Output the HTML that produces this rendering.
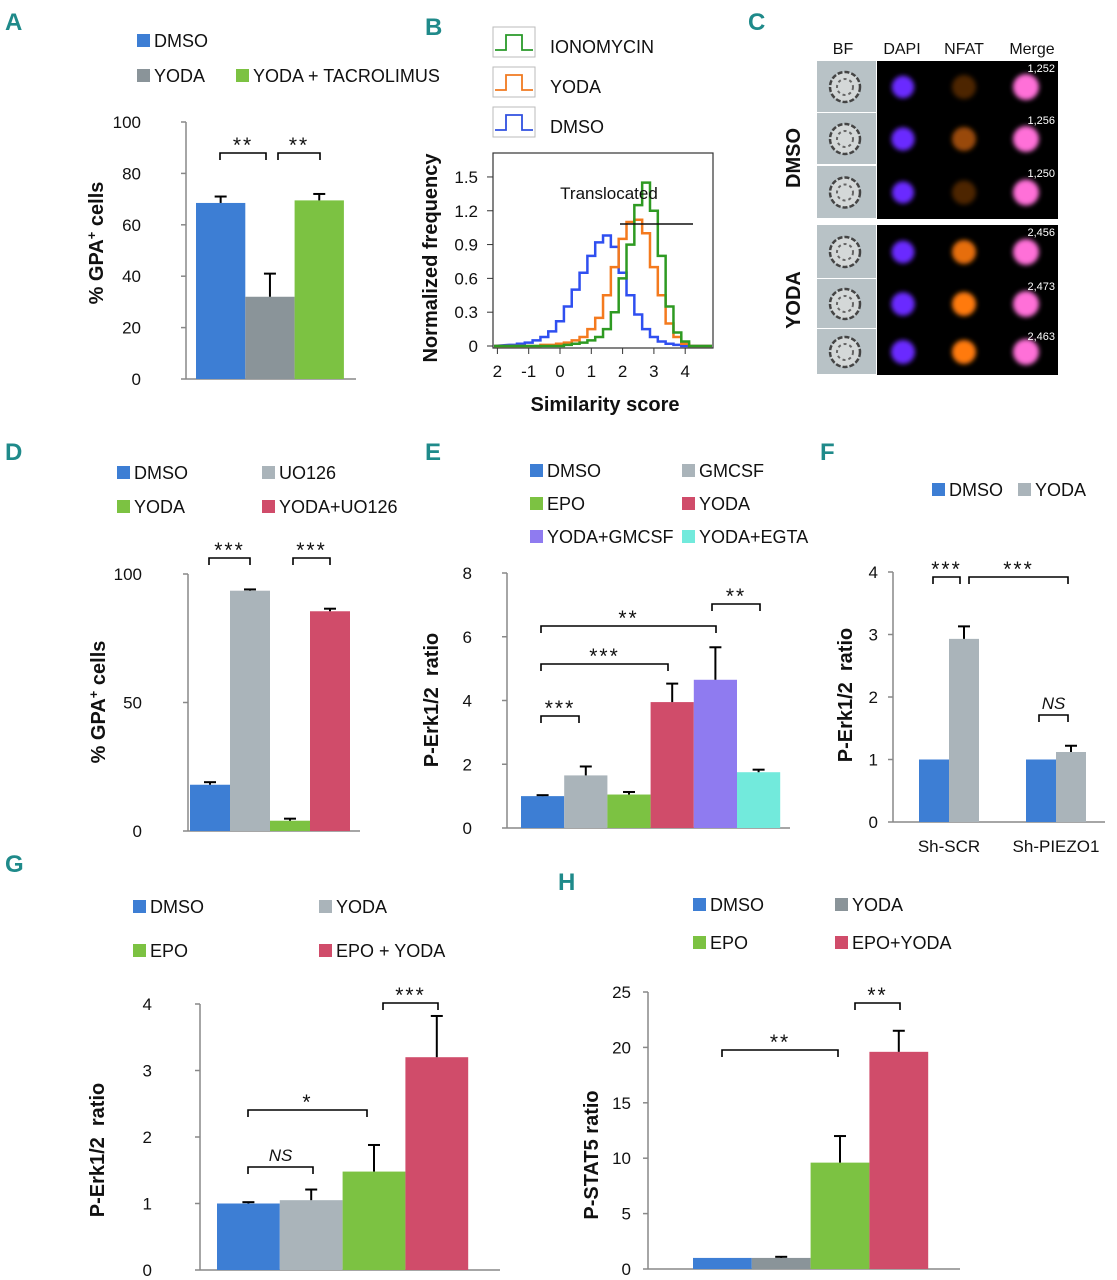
<!DOCTYPE html>
<html><head><meta charset="utf-8"><style>
body{margin:0;background:#fff}
svg{display:block;font-family:"Liberation Sans",sans-serif}
.t{font-size:17px;fill:#111}
.lg{font-size:18px;fill:#111}
.yl{font-size:20px;font-weight:bold;fill:#111}
.pl{font-size:24px;font-weight:bold;fill:#1f8a8a;font-family:"Liberation Sans Narrow","Liberation Sans",sans-serif}
</style></head><body>
<svg id="fig" width="1117" height="1280" viewBox="0 0 1117 1280">
<defs>
<filter id="bl" x="-50%" y="-50%" width="200%" height="200%"><feGaussianBlur stdDeviation="2.5"/></filter>
</defs>
</svg>
<script>
// ---- data ----
const aCats=["DMSO","YODA","YODA + TACROLIMUS"];
const aVals=[68.5,32,69.5];
const aErr=[2.5,9,2.5];
const aTicks=[0,20,40,60,80,100];

const bX=[-1.5,-1.25,-1,-0.75,-0.5,-0.25,0,0.25,0.5,0.75,1,1.25,1.5,1.75,2,2.25,2.5,2.75,3,3.25,3.5,3.75,4,4.25];
const bBlue=[0.01,0.02,0.03,0.05,0.08,0.13,0.22,0.35,0.5,0.65,0.8,0.92,0.98,0.88,0.65,0.45,0.28,0.15,0.08,0.04,0.02,0.01,0,0];
const bOrange=[0,0,0,0,0.01,0.01,0.02,0.03,0.05,0.08,0.15,0.25,0.45,0.7,0.95,1.1,1.12,1.0,0.7,0.45,0.2,0.08,0.02,0];
const bGreen=[0,0,0,0,0,0,0,0.01,0.02,0.03,0.05,0.08,0.15,0.3,0.6,0.9,1.25,1.45,1.2,0.8,0.35,0.12,0.04,0];
const bYTicks=[0,0.3,0.6,0.9,1.2,1.5];
const bXTicks=[-2,-1,0,1,2,3,4];
const bXLabels=["2","-1","0","1","2","3","4"];

const dCats=["DMSO","UO126","YODA","YODA+UO126"];
const dVals=[18,93.5,4,85.5];
const dErr=[1,0.5,0.8,1];
const dTicks=[0,50,100];

const eCats=["DMSO","GMCSF","EPO","YODA","YODA+GMCSF","YODA+EGTA"];
const eVals=[1.0,1.65,1.05,3.95,4.65,1.75];
const eErr=[0.03,0.28,0.08,0.58,1.02,0.08];
const eTicks=[0,2,4,6,8];

const fGroups=["Sh-SCR","Sh-PIEZO1"];
const fDmso=[1.0,1.0];
const fYoda=[2.93,1.12];
const fYodaErr=[0.2,0.1];
const fTicks=[0,1,2,3,4];

const gCats=["DMSO","YODA","EPO","EPO + YODA"];
const gVals=[1.0,1.05,1.48,3.2];
const gErr=[0.02,0.16,0.4,0.62];
const gTicks=[0,1,2,3,4];

const hCats=["DMSO","YODA","EPO","EPO+YODA"];
const hVals=[1.0,1.0,9.6,19.6];
const hErr=[0,0.1,2.4,1.9];
const hTicks=[0,5,10,15,20,25];

const cDmso=["1,252","1,256","1,250"];
const cYoda=["2,456","2,473","2,463"];

// ---- helpers ----
const NS="http://www.w3.org/2000/svg";
const svg=document.getElementById('fig');
function el(tag,attrs,parent,text){const e=document.createElementNS(NS,tag);for(const k in attrs)e.setAttribute(k,attrs[k]);if(text!==undefined)e.textContent=text;(parent||svg).appendChild(e);return e;}
function grp(name){const g=el('g',{});return g;}
const BLUE="#3d7ed4",LGREY="#aab4ba",DGREY="#8a9499",GREEN="#7cc242",RED="#d04c6a",PURPLE="#8f7bf0",CYAN="#72eadc";

function panelLetter(t,x,y){const e=el('text',{x:x,y:y,class:'pl'},svg,t);}
function legendItem(g,x,y,color,label){
  const r=el('rect',{x:x,y:y-13,width:13,height:13,fill:color},g);
  
  const t=el('text',{x:x+17,y:y,class:'lg'},g,label);
  
}
function axes(g,x0,x1,y0,y1,ticks,yScale,labX){
  el('line',{x1:x0,y1:y0,x2:x0,y2:y1,stroke:'#888','stroke-width':1.5},g);
  el('line',{x1:x0,y1:y0,x2:x1,y2:y0,stroke:'#888','stroke-width':1.5},g);
  ticks.forEach(v=>{const y=yScale(v);
    el('line',{x1:x0-5,y1:y,x2:x0,y2:y,stroke:'#888','stroke-width':1.5},g);
    const t=el('text',{x:labX,y:y+6,class:'t','text-anchor':'end'},g,String(v));
    
  });
}
function yTitle(g,x,y,txt){const t=el('text',{x:x,y:y,class:'yl','text-anchor':'middle',transform:`rotate(-90 ${x} ${y})`},g);t.innerHTML=txt;}
function bar(g,x,w,v,err,color,yScale,name){
  const y0=yScale(0),y=yScale(v);
  const r=el('rect',{x:x,y:y,width:w,height:y0-y,fill:color},g);
  
  if(err>0){const ye=yScale(v+err),cx=x+w/2;
    el('line',{x1:cx,y1:y,x2:cx,y2:ye,stroke:'#000','stroke-width':2},g);
    el('line',{x1:cx-6,y1:ye,x2:cx+6,y2:ye,stroke:'#000','stroke-width':2},g);}
}
function bracket(g,x1,x2,y,label,italic){
  el('path',{d:`M${x1} ${y+7}V${y}H${x2}V${y+7}`,fill:'none',stroke:'#000','stroke-width':1.6},g);
  const t=el('text',{x:(x1+x2)/2,y:italic?y-6:y-1,'text-anchor':'middle','font-size':italic?17:21,'font-style':italic?'italic':'normal','letter-spacing':italic?0:2,fill:'#111'},g,label);
  
}
function barChart(name,o){
  const g=grp(name);
  const ys=v=>o.y0-(v-o.min)/(o.max-o.min)*(o.y0-o.y1);
  axes(g,o.ax,o.axEnd,o.y0,o.y1,o.ticks,ys,o.labX);
  o.vals.forEach((v,i)=>bar(g,o.bx+i*o.bw,o.bw,v,o.err[i],o.colors[i],ys,'bar-'+o.cats[i].toLowerCase().replace(/[^a-z0-9]+/g,'-')));
  return {g,ys};
}

// ---- Panel A ----
panelLetter('A',5,30);
{const lg=grp('legend-a');legendItem(lg,137,47,BLUE,aCats[0]);legendItem(lg,137,82,DGREY,aCats[1]);legendItem(lg,236,82,GREEN,aCats[2]);
 const {g}=barChart('chart-a',{ax:186,axEnd:356,y0:379,y1:122,min:0,max:100,ticks:aTicks,labX:141,vals:aVals,err:aErr,bx:196,bw:49.3,colors:[BLUE,DGREY,GREEN],cats:aCats});
 yTitle(g,103,243,'% GPA<tspan baseline-shift="super" font-size="13">+</tspan> cells');
 bracket(g,220,266,153,'**');bracket(g,278,320,153,'**');}

// ---- Panel B ----
panelLetter('B',425,35);
{const lg=grp('legend-b');
 [["IONOMYCIN","#2a9a2a",27],["YODA","#f07a20",67],["DMSO","#3050e0",107]].forEach(([l,c,y])=>{
  el('rect',{x:493,y:y,width:42,height:30,fill:'none',stroke:'#bbb'},lg);
  el('path',{d:`M495 ${y+23}H506V${y+8}H522V${y+23}H533`,fill:'none',stroke:c,'stroke-width':1.8},lg);
  const t=el('text',{x:550,y:y+26,class:'lg','font-size':19},lg,l);});
 const g=grp('chart-b');
 const xs=v=>560+v*31.3, ys=v=>346-v*112.7;
 el('rect',{x:493,y:153,width:220,height:195,fill:'none',stroke:'#333','stroke-width':1.2},g);
 bYTicks.forEach(v=>{el('line',{x1:487,y1:ys(v),x2:493,y2:ys(v),stroke:'#333'},g);const t=el('text',{x:478,y:ys(v)+6,class:'t','text-anchor':'end'},g,String(v));});
 bXTicks.forEach((v,i)=>{el('line',{x1:xs(v),y1:348,x2:xs(v),y2:354,stroke:'#333'},g);const t=el('text',{x:xs(v),y:377,class:'t','text-anchor':'middle'},g,bXLabels[i]);});
 function hist(arr,color,name){let d=`M494 ${ys(0)}`;const w=0.25;
  arr.forEach((v,i)=>{const x0=xs(bX[i]-w/2),x1=xs(bX[i]+w/2);d+=`L${x0} ${ys(v)}L${x1} ${ys(v)}`;});
  d+=`L712 ${ys(0)}`;const p=el('path',{d:d,fill:'none',stroke:color,'stroke-width':2.5},g);}
 hist(bBlue,'#2f4ff0','hist-dmso');hist(bOrange,'#f47a1e','hist-yoda');hist(bGreen,'#2e9a22','hist-ionomycin');
 el('line',{x1:620,y1:224,x2:693,y2:224,stroke:'#111','stroke-width':1.5},g);
 el('text',{x:609,y:199,'font-size':17,'text-anchor':'middle',fill:'#111'},g,'Translocated');
 yTitle(g,437,258,'Normalized frequency');
 const xt=el('text',{x:605,y:411,class:'yl','font-size':18,'text-anchor':'middle'},g,'Similarity score');}

// ---- Panel C ----
panelLetter('C',748,30);
{const g=grp('image-panel-c');
 [["BF",843],["DAPI",902],["NFAT",964],["Merge",1032]].forEach(([t,x])=>el('text',{x:x,y:54,'font-size':16,'text-anchor':'middle',fill:'#111'},g,t));
 el('rect',{x:877,y:61,width:181,height:158,fill:'#000'},g);
 el('rect',{x:877,y:225,width:181,height:150,fill:'#000'},g);
 const rows=[[61,cDmso[0],0.6,0.3],[113,cDmso[1],0.8,0.6],[166,cDmso[2],0.5,0.3],[225,cYoda[0],0.7,0.9],[279,cYoda[1],0.9,1],[329,cYoda[2],1,1]];
 rows.forEach(([y,n,s,o],i)=>{const h=i==2?53:(i==5?46:(i<3?52:(i==3?54:50)));const cy=y+h/2;
  el('rect',{x:817,y:y,width:59,height:h-1,fill:'#b8c2c6'},g);
  el('circle',{cx:845,cy:cy,r:15,fill:'#d4d8d8',stroke:'#444','stroke-width':2.5,'stroke-dasharray':'5 2'},g);
  el('circle',{cx:845,cy:cy,r:8,fill:'none',stroke:'#666','stroke-width':2,'stroke-dasharray':'3 3'},g);
  el('circle',{cx:903,cy:cy,r:10+s*2,fill:'#6a2cff',filter:'url(#bl)'},g);
  el('circle',{cx:964,cy:cy,r:12,fill:'#ff7a10','fill-opacity':o,filter:'url(#bl)'},g);
  el('circle',{cx:1026,cy:cy,r:13,fill:'#ff70d8',filter:'url(#bl)'},g);
  el('text',{x:1055,y:y+11,'font-size':11,'text-anchor':'end',fill:'#fff'},g,n);});
 yTitle(g,800,158,'DMSO');yTitle(g,800,300,'YODA');}

// ---- Panel D ----
panelLetter('D',5,460);
{const lg=grp('legend-d');legendItem(lg,117,479,BLUE,'DMSO');legendItem(lg,262,479,LGREY,'UO126');legendItem(lg,117,513,GREEN,'YODA');legendItem(lg,262,513,RED,'YODA+UO126');
 const {g}=barChart('chart-d',{ax:188,axEnd:360,y0:831,y1:574,min:0,max:100,ticks:dTicks,labX:142,vals:dVals,err:dErr,bx:190,bw:40,colors:[BLUE,LGREY,GREEN,RED],cats:dCats});
 yTitle(g,105,702,'% GPA<tspan baseline-shift="super" font-size="13">+</tspan> cells');
 bracket(g,209,250,558,'***');bracket(g,293,330,558,'***');}

// ---- Panel E ----
panelLetter('E',425,460);
{const lg=grp('legend-e');legendItem(lg,530,477,BLUE,'DMSO');legendItem(lg,682,477,LGREY,'GMCSF');legendItem(lg,530,510,GREEN,'EPO');legendItem(lg,682,510,RED,'YODA');legendItem(lg,530,543,PURPLE,'YODA+GMCSF');legendItem(lg,682,543,CYAN,'YODA+EGTA');
 const {g}=barChart('chart-e',{ax:507,axEnd:790,y0:828,y1:573,min:0,max:8,ticks:eTicks,labX:472,vals:eVals,err:eErr,bx:521,bw:43.2,colors:[BLUE,LGREY,GREEN,RED,PURPLE,CYAN],cats:eCats});
 yTitle(g,438,700,'P-Erk1/2&#160; ratio');
 bracket(g,541,579,716,'***');bracket(g,541,668,664,'***');bracket(g,541,716,626,'**');bracket(g,712,760,604,'**');}

// ---- Panel F ----
panelLetter('F',820,460);
{const lg=grp('legend-f');legendItem(lg,932,496,BLUE,'DMSO');legendItem(lg,1018,496,LGREY,'YODA');
 const g=grp('chart-f');const ys=v=>822-v*62.5;
 axes(g,893,1105,822,572,fTicks,ys,878);
 const gx=[919,1026];
 fGroups.forEach((n,i)=>{bar(g,gx[i],30,fDmso[i],0,BLUE,ys,'bar-dmso-'+n.toLowerCase());bar(g,gx[i]+30,30,fYoda[i],fYodaErr[i],LGREY,ys,'bar-yoda-'+n.toLowerCase());
  const t=el('text',{x:gx[i]+30,y:852,class:'t','text-anchor':'middle'},g,n);});
 yTitle(g,852,695,'P-Erk1/2&#160; ratio');
 bracket(g,933,960,577,'***');bracket(g,969,1068,577,'***');bracket(g,1039,1068,715,'NS',true);}

// ---- Panel G ----
panelLetter('G',5,872);
{const lg=grp('legend-g');legendItem(lg,133,913,BLUE,'DMSO');legendItem(lg,319,913,LGREY,'YODA');legendItem(lg,133,957,GREEN,'EPO');legendItem(lg,319,957,RED,'EPO + YODA');
 const {g}=barChart('chart-g',{ax:200,axEnd:500,y0:1270,y1:1004,min:0,max:4,ticks:gTicks,labX:152,vals:gVals,err:gErr,bx:217,bw:62.8,colors:[BLUE,LGREY,GREEN,RED],cats:gCats});
 yTitle(g,104,1150,'P-Erk1/2&#160; ratio');
 bracket(g,248,313,1167,'NS',true);bracket(g,248,367,1110,'*');bracket(g,383,438,1003,'***');}

// ---- Panel H ----
panelLetter('H',558,890);
{const lg=grp('legend-h');legendItem(lg,693,911,BLUE,'DMSO');legendItem(lg,835,911,DGREY,'YODA');legendItem(lg,693,949,GREEN,'EPO');legendItem(lg,835,949,RED,'EPO+YODA');
 const {g}=barChart('chart-h',{ax:648,axEnd:960,y0:1269,y1:992,min:0,max:25,ticks:hTicks,labX:631,vals:hVals,err:hErr,bx:693,bw:58.8,colors:[BLUE,DGREY,GREEN,RED],cats:hCats});
 yTitle(g,598,1155,'P-STAT5 ratio');
 bracket(g,722,838,1050,'**');bracket(g,855,900,1003,'**');}
</script>
</body></html>
